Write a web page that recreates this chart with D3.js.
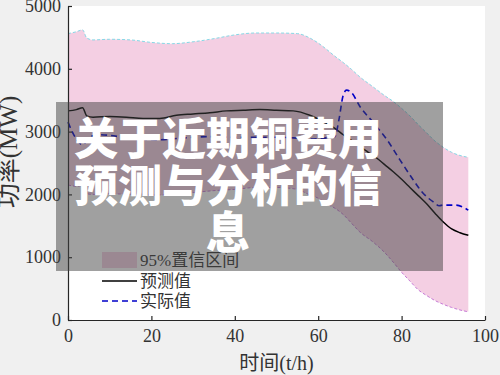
<!DOCTYPE html>
<html lang="zh">
<head>
  <meta charset="UTF-8">
  <title>关于近期铜费用预测与分析的信息</title>
  <script src="https://d3js.org/d3.v7.min.js"></script>
  <style>
    * { margin: 0; padding: 0; box-sizing: border-box; }
    body { background: #f0f0f0; width: 500px; height: 375px; overflow: hidden; }
    svg { display: block; }
    .serif { font-family: "Liberation Serif", "Noto Sans CJK SC", serif; fill: #333; }
    .axis path, .axis line { stroke: #262626; stroke-width: 1.2; }
  </style>
</head>
<body>
  <svg id="chart" width="500" height="375"></svg>

  <script>
    // 95% band (upper / lower) on a shared time grid
    const bandX     = [0, 2, 3.5, 4.5, 6, 10, 15, 20, 25, 30, 35, 40, 45, 50, 55, 58, 60, 62, 64, 66, 68, 70, 73, 76, 78, 80, 82, 84, 86, 88, 90, 92, 94, 96];
    const bandUpper = [4560, 4590, 4620, 4490, 4460, 4470, 4460, 4420, 4400, 4430, 4480, 4540, 4570, 4570, 4560, 4490, 4410, 4310, 4200, 4100, 3990, 3870, 3720, 3570, 3480, 3370, 3250, 3110, 2980, 2850, 2750, 2670, 2620, 2590];
    const bandLower = [2150, 2130, 2140, 2010, 2000, 2010, 2000, 1990, 2000, 2030, 2060, 2080, 2110, 2110, 2080, 1990, 1940, 1850, 1780, 1680, 1540, 1400, 1250, 1070, 920, 760, 620, 480, 390, 310, 250, 200, 160, 130];

    // predicted value
    const predX = [0, 2, 3.5, 4.5, 6, 10, 14, 18, 22, 26, 30, 34, 38, 42, 46, 50, 54, 58, 60, 62, 64, 66, 68, 70, 72, 74, 76, 78, 80, 82, 84, 86, 88, 90, 92, 94, 96];
    const predY = [3330, 3350, 3380, 3250, 3230, 3240, 3230, 3210, 3210, 3260, 3280, 3300, 3330, 3340, 3350, 3340, 3330, 3260, 3200, 3130, 3050, 2950, 2860, 2760, 2670, 2580, 2470, 2360, 2240, 2110, 1980, 1850, 1700, 1560, 1450, 1390, 1350];

    // actual value
    const actX = [0, 1, 2, 3.5, 5, 7, 10, 14, 18, 22, 26, 30, 34, 40, 46, 50, 54, 58, 62, 64, 65, 66, 66.8, 68, 70, 73, 76.5, 79.6, 82.8, 85, 87.6, 89, 90, 93, 96];
    const actY = [3150, 3000, 2880, 2790, 2900, 2950, 2940, 2900, 2880, 2870, 2890, 2910, 2920, 2910, 2910, 2910, 2900, 2880, 2900, 2920, 3200, 3580, 3660, 3620, 3400, 3160, 2870, 2550, 2230, 2030, 1880, 1820, 1830, 1830, 1750];

    const xTicks = [0, 20, 40, 60, 80, 100];
    const yTicks = [0, 1000, 2000, 3000, 4000, 5000];
    const legendLabels = ["95%置信区间", "预测值", "实际值"];
    const titleLines = ["关于近期铜费用", "预测与分析的信", "息"];

    const svg = d3.select("#chart");

    const x = d3.scaleLinear().domain([0, 100]).range([68, 485]);
    const y = d3.scaleLinear().domain([0, 5000]).range([320, 6]);

    // white plot area
    svg.append("rect")
      .attr("x", x(0)).attr("y", y(5000))
      .attr("width", x(100) - x(0)).attr("height", y(0) - y(5000))
      .attr("fill", "#fff");

    const band = bandX.map((t, i) => ({ t, hi: bandUpper[i], lo: bandLower[i] }));

    svg.append("path")
      .datum(band)
      .attr("fill", "#f4cfe3")
      .attr("d", d3.area().x(d => x(d.t)).y0(d => y(d.lo)).y1(d => y(d.hi)).curve(d3.curveMonotoneX));

    svg.append("path")
      .datum(band)
      .attr("fill", "none")
      .attr("stroke", "#86d8e6")
      .attr("stroke-width", 1)
      .attr("stroke-dasharray", "3,2")
      .attr("d", d3.line().x(d => x(d.t)).y(d => y(d.hi)).curve(d3.curveMonotoneX));

    svg.append("path")
      .datum(band)
      .attr("fill", "none")
      .attr("stroke", "#c77bd6")
      .attr("stroke-width", 1)
      .attr("stroke-dasharray", "3,2")
      .attr("d", d3.line().x(d => x(d.t)).y(d => y(d.lo)).curve(d3.curveMonotoneX));

    const line = d3.line().x(d => x(d[0])).y(d => y(d[1])).curve(d3.curveMonotoneX);

    svg.append("path")
      .datum(predX.map((t, i) => [t, predY[i]]))
      .attr("fill", "none")
      .attr("stroke", "#000")
      .attr("stroke-width", 1.5)
      .attr("d", line);

    svg.append("path")
      .datum(actX.map((t, i) => [t, actY[i]]))
      .attr("fill", "none")
      .attr("stroke", "#0000c8")
      .attr("stroke-width", 1.6)
      .attr("stroke-dasharray", "6,4")
      .attr("d", line);

    // axes (ticks pointing inward)
    const xAxis = svg.append("g")
      .attr("class", "axis")
      .attr("transform", `translate(0,${y(0)})`)
      .call(d3.axisBottom(x).tickValues(xTicks).tickFormat(d3.format("d"))
        .tickSizeInner(-4).tickSizeOuter(0).tickPadding(9));

    const yAxis = svg.append("g")
      .attr("class", "axis")
      .attr("transform", `translate(${x(0)},0)`)
      .call(d3.axisLeft(y).tickValues(yTicks).tickFormat(d3.format("d"))
        .tickSizeInner(-4).tickSizeOuter(0).tickPadding(7));

    [xAxis, yAxis].forEach(g => g.selectAll("text")
      .style("font-family", "'Liberation Serif', serif")
      .style("font-size", "18px")
      .style("fill", "#333"));

    svg.append("text")
      .attr("class", "serif")
      .attr("x", (x(0) + x(100)) / 2)
      .attr("y", 370)
      .attr("text-anchor", "middle")
      .style("font-size", "20px")
      .text("时间(t/h)");

    svg.append("text")
      .attr("class", "serif")
      .attr("transform", "translate(17,152) rotate(-90)")
      .attr("text-anchor", "middle")
      .style("font-size", "25px")
      .text("功率(MW)");

    // legend
    const lg = svg.append("g").attr("transform", "translate(102,260)");
    lg.append("rect").attr("x", 0).attr("y", -8).attr("width", 35).attr("height", 16).attr("fill", "#f4cfe3");
    lg.append("line").attr("x1", 0).attr("x2", 35).attr("y1", 21).attr("y2", 21)
      .attr("stroke", "#000").attr("stroke-width", 1.5);
    lg.append("line").attr("x1", 0).attr("x2", 35).attr("y1", 41).attr("y2", 41)
      .attr("stroke", "#0000c8").attr("stroke-width", 1.6).attr("stroke-dasharray", "6,4");
    lg.selectAll("text.leg")
      .data(legendLabels)
      .enter().append("text")
      .attr("class", "serif leg")
      .attr("x", 38)
      .attr("y", (d, i) => i * 20.5 + 6)
      .style("font-size", "17px")
      .text(d => d);

    // title overlay
    svg.append("rect")
      .attr("x", 56).attr("y", 102)
      .attr("width", 387).attr("height", 169)
      .attr("fill", "rgba(65,65,65,0.5)");

    svg.selectAll("text.title")
      .data(titleLines)
      .enter().append("text")
      .attr("class", "title")
      .attr("x", 228)
      .attr("y", (d, i) => 155 + i * 47)
      .attr("text-anchor", "middle")
      .style("font-family", "'Noto Sans CJK SC', sans-serif")
      .style("font-weight", 900)
      .style("font-size", "44px")
      .style("fill", "#fff")
      .text(d => d);
  </script>
</body>
</html>
